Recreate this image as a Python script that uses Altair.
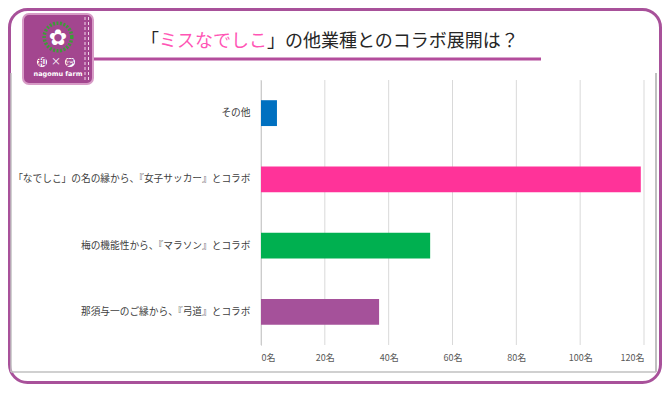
import altair as alt
import pandas as pd

# ---- data ----
categories = ["その他", "「なでしこ」の名の縁から、『女子サッカー』とコラボ",
              "梅の機能性から、『マラソン』とコラボ", "那須与一のご縁から、『弓道』とコラボ"]
values = [5, 119, 53, 37]
colors = ["#0070C0", "#FF3399", "#00B050", "#A5519A"]
ticks = [0, 20, 40, 60, 80, 100, 120]
title_pre = "「"
title_pink = "ミスなでしこ"
title_post = "」の他業種とのコラボ展開は？"

df = pd.DataFrame({"cat": categories, "val": values, "col": colors})
grid_df = pd.DataFrame({"val": ticks})

FONT = "Noto Sans CJK JP"
# total chart size (fits inside the 670x398 window with its 8px margin)
TW, TH = 654, 376
# plot area in page coords: x 261..644, y 80..345 ; chart origin at page (8,8)
PX, PY = 261, 80
W, H = 383, 265


def X(px):
    return px - PX


def Y(py):
    return py - PY


one = alt.Data(values=[{"a": 1}])

xscale = alt.Scale(domain=[0, 120], nice=False)
xaxis = alt.Axis(title=None, values=ticks, labelExpr="datum.value + '名'",
                 ticks=False, domain=False, grid=False, labelFont=FONT,
                 labelFontSize=9, labelColor="#595959", labelPadding=8)

grid = alt.Chart(grid_df).mark_rule(color="#D9D9D9", strokeWidth=1).encode(
    x=alt.X("val:Q", scale=xscale, axis=xaxis),
    y=alt.value(0), y2=alt.value(H)
)

bars = alt.Chart(df).mark_bar().encode(
    y=alt.Y("cat:N", sort=categories,
            scale=alt.Scale(paddingInner=0.61, paddingOuter=0.305),
            axis=alt.Axis(title=None, ticks=False, domain=True, domainColor="#BFBFBF",
                          domainWidth=1, labelFont=FONT, labelFontSize=9.7,
                          labelColor="#404040", labelPadding=11, labelLimit=400, grid=False)),
    x=alt.X("val:Q", scale=xscale, axis=xaxis),
    color=alt.Color("col:N", scale=None),
)

# chart box (left, right, bottom)
box_col = "#C0C0C0"
box_l = alt.Chart(one).mark_rule(color=box_col, strokeWidth=1.5).encode(
    x=alt.value(X(11)), y=alt.value(Y(73)), y2=alt.value(Y(372)))
box_r = alt.Chart(one).mark_rule(color=box_col, strokeWidth=2).encode(
    x=alt.value(X(656)), y=alt.value(Y(73)), y2=alt.value(Y(372)))
box_b = alt.Chart(one).mark_rule(color=box_col, strokeWidth=1.5).encode(
    x=alt.value(X(11)), x2=alt.value(X(656)), y=alt.value(Y(372)))

# outer rounded border
border = alt.Chart(one).mark_rect(fill=None, stroke="#A8519A", strokeWidth=3, cornerRadius=18).encode(
    x=alt.value(X(9.5)), x2=alt.value(X(8 + TW - 1.5)),
    y=alt.value(Y(9.5)), y2=alt.value(Y(8 + TH - 1.5)))

# title
underline = alt.Chart(one).mark_rule(color="#B34D9C", strokeWidth=3).encode(
    x=alt.value(X(92)), x2=alt.value(X(541)), y=alt.value(Y(59)))
t1 = alt.Chart(one).mark_text(font=FONT, fontSize=18, align="right", baseline="middle",
                              color="#262626", text=title_pre).encode(
    x=alt.value(X(159)), y=alt.value(Y(42)))
t2 = alt.Chart(one).mark_text(font=FONT, fontSize=18, align="left", baseline="middle",
                              color="#FF55B5", text=title_pink).encode(
    x=alt.value(X(159)), y=alt.value(Y(42)))
t3 = alt.Chart(one).mark_text(font=FONT, fontSize=18, align="left", baseline="middle",
                              color="#262626", text=title_post).encode(
    x=alt.value(X(159 + 6 * 18)), y=alt.value(Y(42)))

# logo
logo_bg = alt.Chart(one).mark_rect(fill="#A3468F", stroke="#D79BC6", strokeWidth=2, cornerRadius=6).encode(
    x=alt.value(X(23)), x2=alt.value(X(93)), y=alt.value(Y(14)), y2=alt.value(Y(84)))
logo_stitch1 = alt.Chart(one).mark_rule(color="#F2D8EA", strokeWidth=1, strokeDash=[3, 2]).encode(
    x=alt.value(X(85)), y=alt.value(Y(17)), y2=alt.value(Y(81)))
logo_stitch2 = alt.Chart(one).mark_rule(color="#F2D8EA", strokeWidth=1, strokeDash=[3, 2]).encode(
    x=alt.value(X(88.5)), y=alt.value(Y(17)), y2=alt.value(Y(81)))
logo_ring = alt.Chart(one).mark_point(shape="circle", filled=False, stroke="#3E9B3A", strokeWidth=3.5,
                                      strokeDash=[2, 1.5], opacity=1).encode(
    x=alt.value(X(58)), y=alt.value(Y(37)), size=alt.value(760))
logo_flower = alt.Chart(one).mark_text(font="DejaVu Sans", fontSize=22, color="white", text="✿",
                                       baseline="middle").encode(
    x=alt.value(X(58)), y=alt.value(Y(38)))
logo_c = alt.Chart(pd.DataFrame({"px": [X(42), X(70)]})).mark_point(
    shape="circle", filled=True, fill="white", opacity=1, stroke="#A3468F").encode(
    x=alt.X("px:Q", scale=None), y=alt.value(Y(62)), size=alt.value(150))
logo_k = alt.Chart(pd.DataFrame({"px": [X(42), X(70)], "k": ["和", "夢"]})).mark_text(
    font=FONT, fontSize=9, fontWeight="bold", color="#A3468F", baseline="middle").encode(
    x=alt.X("px:Q", scale=None), y=alt.value(Y(62)), text="k:N")
logo_x = alt.Chart(one).mark_text(font=FONT, fontSize=10, color="white", text="×",
                                  baseline="middle").encode(
    x=alt.value(X(56)), y=alt.value(Y(62)))
logo_t = alt.Chart(one).mark_text(font="DejaVu Sans", fontSize=6.5, fontWeight="bold", color="white",
                                  text="nagomu farm", baseline="middle").encode(
    x=alt.value(X(58)), y=alt.value(Y(74)))

chart = alt.layer(
    border, box_l, box_r, box_b, grid, bars, underline, t1, t2, t3,
    logo_bg, logo_stitch1, logo_stitch2, logo_ring, logo_flower, logo_c, logo_k, logo_x, logo_t
).properties(
    width=W, height=H,
    padding={"left": PX - 8, "top": PY - 8, "right": TW - (PX - 8 + W), "bottom": TH - (PY - 8 + H)},
    autosize=alt.AutoSizeParams(type="none"),
    background="white",
).configure_view(stroke=None)

chart.save("out.html", embed_options={"renderer": "svg", "actions": False})
